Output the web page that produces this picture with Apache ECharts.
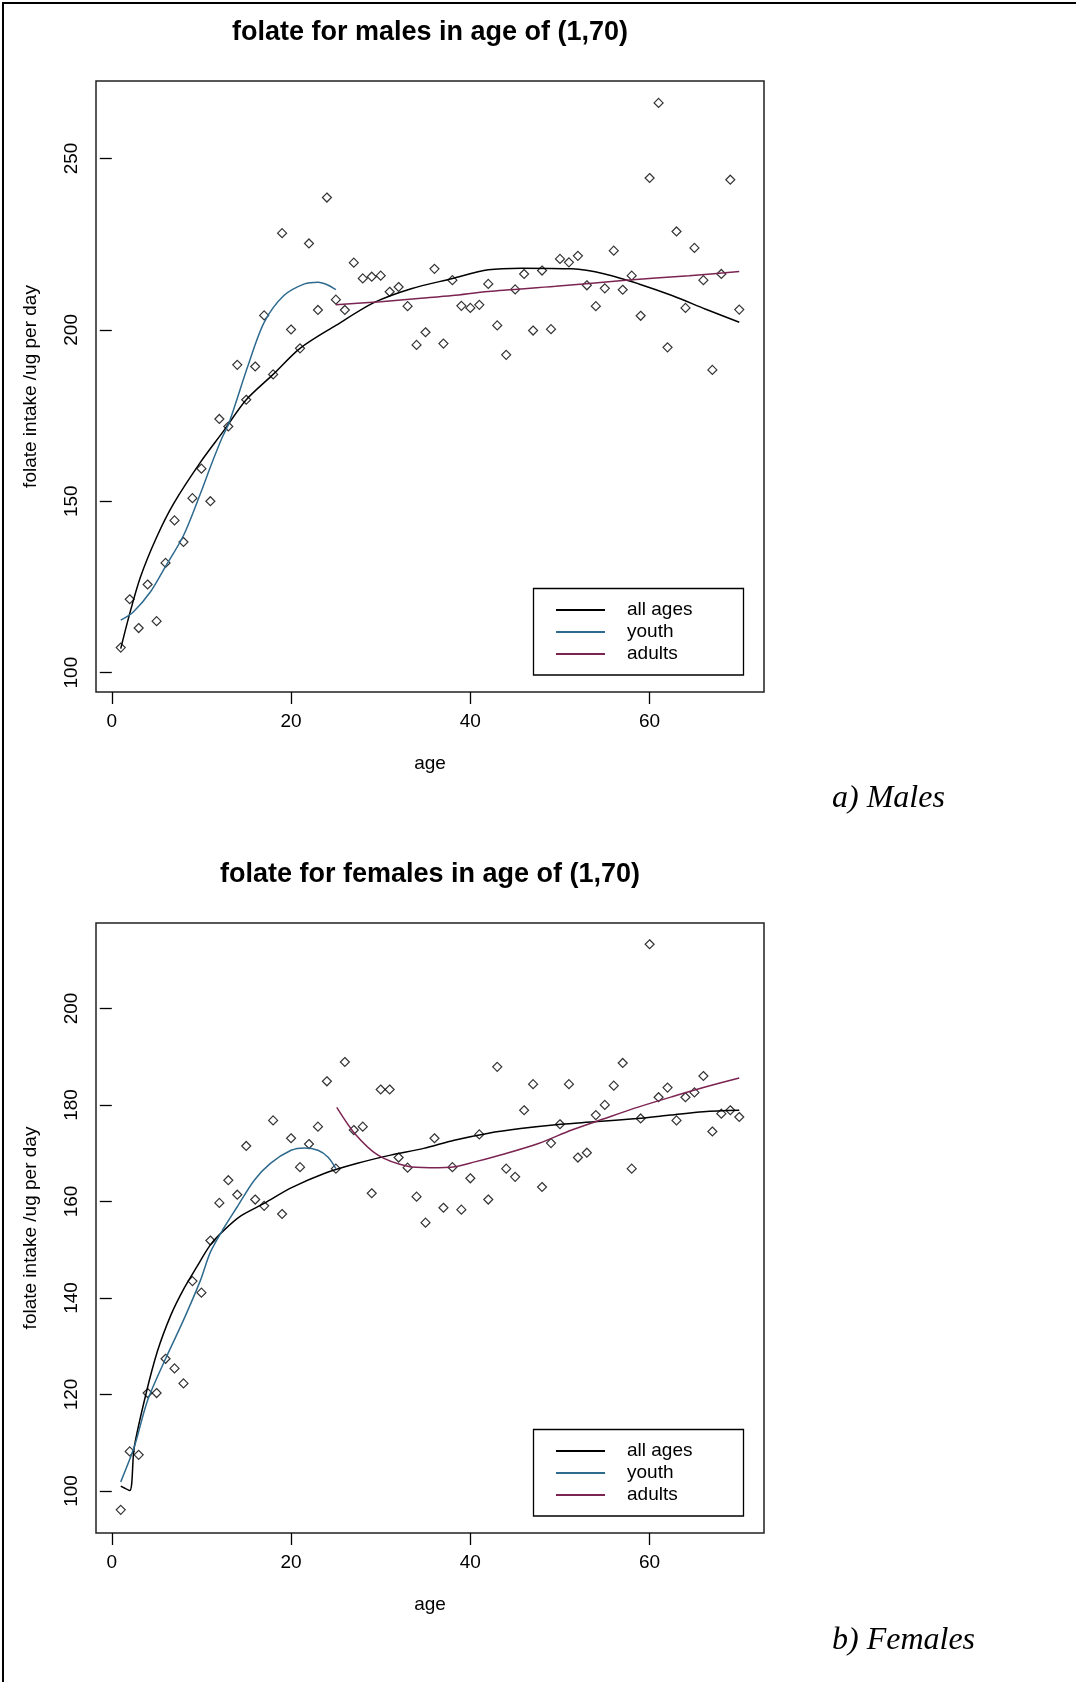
<!DOCTYPE html>
<html>
<head>
<meta charset="utf-8">
<title>folate by age</title>
<script src="https://cdn.jsdelivr.net/npm/echarts@6/dist/echarts.min.js"></script>
<style>
  html, body { margin: 0; padding: 0; background: #fff; }
  #main { width: 1076px; height: 1682px; }
</style>
</head>
<body>
<div id="main"></div>
<script>
  // ages 1..70, one survey point per age
  const ages = [1,2,3,4,5,6,7,8,9,10,11,12,13,14,15,16,17,18,19,20,
    21,22,23,24,25,26,27,28,29,30,31,32,33,34,35,36,37,38,39,40,
    41,42,43,44,45,46,47,48,49,50,51,52,53,54,55,56,57,58,59,60,
    61,62,63,64,65,66,67,68,69,70];

  const maleFolate = [107.3,121.4,113.0,125.7,115.0,132.0,144.4,138.1,150.9,159.5,
    150.0,174.0,171.8,189.8,179.6,189.3,204.2,187.0,228.2,200.1,
    194.6,225.2,205.8,238.6,208.8,205.8,219.6,215.0,215.5,215.8,
    211.1,212.5,206.9,195.6,199.3,217.8,196.0,214.5,207.0,206.4,
    207.3,213.4,201.3,192.7,211.8,216.3,199.8,217.3,200.2,220.7,
    219.7,221.6,213.0,206.9,212.1,223.1,211.7,215.8,204.1,244.3,
    266.2,194.9,228.7,206.4,223.9,214.5,188.3,216.3,243.8,205.9];

  const femaleFolate = [96.1,108.2,107.5,120.3,120.3,127.4,125.4,122.3,143.5,141.1,
    151.9,159.7,164.4,161.4,171.5,160.4,159.1,176.8,157.4,173.1,
    167.1,171.9,175.5,184.9,166.8,188.9,174.8,175.5,161.7,183.2,
    183.2,169.1,167.0,161.0,155.6,173.1,158.7,167.1,158.3,164.8,
    173.9,160.4,187.9,166.8,165.1,178.9,184.3,163.0,172.1,176.0,
    184.3,169.1,170.1,177.9,180.0,184.0,188.7,166.8,177.2,213.3,
    181.6,183.6,176.8,181.6,182.6,186.0,174.5,178.2,178.9,177.5];

  // fitted curves as [age, value]
  const maleAllAges = [[1,107],[2,117.2],[3.2,127.9],[5,139.5],[6.9,149.3],[9.9,161.4],
    [12.5,170.6],[15,179.6],[18,187],[21,194.6],[25,201.3],[29.3,208],[33.4,212],
    [37.9,214.9],[42,217.5],[45.7,218],[51.3,217.8],[55,216.3],[58.8,213.4],
    [62.5,210],[66.2,206.1],[70,202.2]];
  const maleYouth = [[1,115.3],[2.4,117.7],[4.3,123.5],[6,131],[8,140],[10,153],
    [11,160],[12.3,168.5],[13.1,173],[15.2,189.6],[17,202.2],[19.2,210],
    [21.5,213.4],[23,213.9],[24.1,213.1],[25,211.7]];
  const maleAdults = [[25,207.3],[30,208.2],[34.5,209.2],[38,210],[42,211.2],
    [49.5,212.7],[57,214.4],[64.4,215.8],[70,217]];

  const femaleAllAges = [[1,101],[2,100.1],[2.5,109],[3.8,120],[5.1,129],[6.6,136.5],
    [8,141.8],[9.5,146.5],[11,151],[12.5,154],[14.4,157],[17,159.6],[20,162.8],
    [23.7,165.8],[27.4,167.9],[31.1,169.6],[34.8,171],[38.2,172.7],[41.9,174.1],
    [45.6,175.1],[50.1,176],[53.8,176.5],[58.6,177.2],[62.3,177.9],[66,178.6],[70,178.9]];
  const femaleYouth = [[1,101.9],[2.5,109.1],[4,118.8],[6,127.4],[8,135.4],[9.9,143.7],
    [11,149.5],[12.5,154.5],[14,158.9],[15.9,164.4],[17.7,167.9],[20,170.6],
    [21.5,171.1],[23,170.6],[24.1,169.2],[25,166.8]];
  const femaleAdults = [[25.1,179.5],[27.1,174.1],[29.7,169.6],[33,167.3],[35.5,167],
    [38.3,167.2],[40.5,168.2],[43.9,169.9],[47.6,172],[51.3,174.8],[55,177.2],
    [58.8,179.6],[62.5,181.7],[66.2,183.7],[70,185.6]];

  const ageTicks = [0, 20, 40, 60];
  const maleTicks = [100, 150, 200, 250];
  const femaleTicks = [100, 120, 140, 160, 180, 200];
  const legendNames = ['all ages', 'youth', 'adults'];

  const sans = 'Liberation Sans, Arial, sans-serif';
  const serif = 'Liberation Serif, Times New Roman, serif';
  const lineColors = { 'all ages': '#000000', youth: '#2e6a8e', adults: '#7b2452' };

  const xAxisFor = (gi) => ({
    type: 'value', gridIndex: gi, min: -1.76, max: 72.76,
    axisLine: { show: false },
    axisTick: { show: true, length: 12, customValues: ageTicks, lineStyle: { color: '#000', width: 1.3 } },
    axisLabel: { customValues: ageTicks, fontSize: 19, color: '#000', fontFamily: sans, margin: 20 },
    splitLine: { show: false },
    name: 'age', nameLocation: 'middle', nameGap: 62,
    nameTextStyle: { fontSize: 19, color: '#000', fontFamily: sans }
  });
  const yAxisFor = (gi, min, max, ticks) => ({
    type: 'value', gridIndex: gi, min: min, max: max,
    axisLine: { show: false },
    axisTick: { show: true, length: 12, customValues: ticks, lineStyle: { color: '#000', width: 1.3 } },
    axisLabel: { customValues: ticks, rotate: 90, fontSize: 19, color: '#000', fontFamily: sans, margin: 15 },
    splitLine: { show: false },
    name: 'folate intake /ug per day', nameLocation: 'middle', nameGap: 56,
    nameTextStyle: { fontSize: 19, color: '#000', fontFamily: sans }
  });

  const lineSeries = (name, gi, data) => ({
    name: name, type: 'line', xAxisIndex: gi, yAxisIndex: gi,
    data: data, smooth: 0.3, symbol: 'none',
    lineStyle: { color: lineColors[name], width: 1.5 },
    itemStyle: { color: lineColors[name] }
  });
  const pointSeries = (gi, values) => ({
    type: 'scatter', xAxisIndex: gi, yAxisIndex: gi,
    data: ages.map((a, i) => [a, values[i]]),
    symbol: 'diamond', symbolSize: 9,
    itemStyle: { color: 'rgba(0,0,0,0)', borderColor: '#000', borderWidth: 1.2 }
  });
  const legendFor = (top) => ({
    orient: 'vertical', left: 556, top: top, padding: 0, itemGap: 0,
    itemWidth: 49, itemHeight: 2, icon: 'rect', selectedMode: false, z: 10,
    data: legendNames,
    textStyle: { fontSize: 19, lineHeight: 22, color: '#000', fontFamily: sans, padding: [0, 0, 0, 17] }
  });
  const boxFor = (y) => ({
    type: 'rect', z: 3, shape: { x: 533.5, y: y, width: 210, height: 86.5 },
    style: { fill: '#fff', stroke: '#000', lineWidth: 1.3 }
  });
  const heading = (text, top) => ({
    text: text, left: 430, top: top, textAlign: 'center', padding: 0,
    textStyle: { fontSize: 27, fontWeight: 'bold', color: '#000', fontFamily: sans }
  });
  const caption = (text, top) => ({
    text: text, left: 832, top: top, padding: 0,
    textStyle: { fontSize: 32, fontWeight: 'normal', fontStyle: 'italic', color: '#000', fontFamily: serif }
  });

  const chart = echarts.init(document.getElementById('main'));
  chart.setOption({
    animation: false,
    backgroundColor: '#fff',
    title: [
      heading('folate for males in age of (1,70)', 19),
      heading('folate for females in age of (1,70)', 861),
      caption('a) Males', 783),
      caption('b) Females', 1625)
    ],
    grid: [
      { left: 96, top: 81, width: 668, height: 611, show: true, borderColor: '#222', borderWidth: 1.5 },
      { left: 96, top: 923, width: 668, height: 610, show: true, borderColor: '#222', borderWidth: 1.5 }
    ],
    xAxis: [xAxisFor(0), xAxisFor(1)],
    yAxis: [yAxisFor(0, 94.34, 272.6, maleTicks), yAxisFor(1, 91.3, 217.7, femaleTicks)],
    legend: [legendFor(599), legendFor(1440)],
    graphic: [
      { type: 'rect', z: 1, shape: { x: 3, y: 3, width: 1200, height: 1800 },
        style: { fill: 'none', stroke: '#000', lineWidth: 2 } },
      boxFor(588.5),
      boxFor(1429.5)
    ],
    series: [
      pointSeries(0, maleFolate),
      lineSeries('all ages', 0, maleAllAges),
      lineSeries('youth', 0, maleYouth),
      lineSeries('adults', 0, maleAdults),
      pointSeries(1, femaleFolate),
      lineSeries('all ages', 1, femaleAllAges),
      lineSeries('youth', 1, femaleYouth),
      lineSeries('adults', 1, femaleAdults)
    ]
  });
  window.onresize = function () {
    chart.resize();
  };
</script>
</body>
</html>
